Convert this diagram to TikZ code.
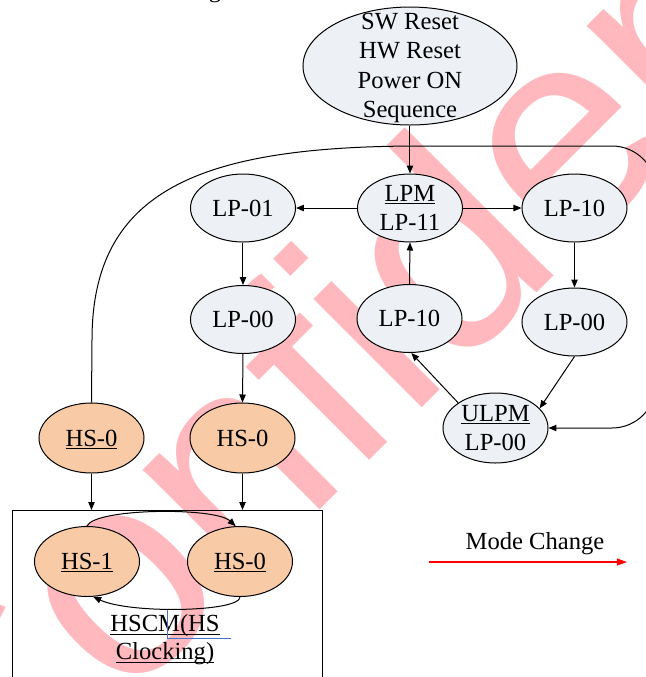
\documentclass[tikz,border=0pt]{standalone}
\usepackage{fontspec}
\setmainfont{Liberation Serif}
\newfontfamily\wmfont{Liberation Sans}
\usetikzlibrary{arrows.meta,shapes.geometric}

\definecolor{lpfill}{RGB}{237,240,245}
\definecolor{hsfill}{RGB}{248,203,166}
\definecolor{wmpink}{RGB}{255,185,190}
\definecolor{frameblue}{RGB}{68,114,196}

% underline drawn at a fixed depth, independent of descenders
\newsavebox\ulinebox
\newcommand\ulw[1]{\sbox\ulinebox{#1}\rlap{\smash{\rule[-1.4pt]{\wd\ulinebox}{0.5pt}}}\usebox\ulinebox}

\begin{document}
\begin{tikzpicture}[x=0.5pt,y=-0.5pt,
  font=\fontsize{12.3pt}{14.8pt}\selectfont,
  state/.style={ellipse, draw, line width=0.5pt, inner sep=0pt,
    minimum width=52.5pt, minimum height=34pt, fill=lpfill},
  hs/.style={state, fill=hsfill, minimum height=35pt},
  arr/.style={-{Triangle[length=4pt,width=3.2pt]}, line width=0.5pt},
  wm/.style={rotate=45, text=wmpink, inner sep=0pt, anchor=base west,
    font=\wmfont\fontsize{145pt}{145pt}\selectfont}]
\useasboundingbox (0,0) rectangle (646,677);
\clip (0,0) rectangle (646,677);

% watermark
\node[wm] (wm) at (-25,855) {Confidential};

% tail of the caption line above
\node[anchor=base, inner sep=0pt] (caption) at (215,-2.3) {g};

% states
\node[state, minimum width=107pt, minimum height=59pt] (reset) at (410,66) {};
\node[align=center, inner sep=0pt] (resetlbl) at (410,68) {SW Reset\\HW Reset\\Power ON\\Sequence};
\node[state, align=center] (lpm) at (410,208) {\ulw{LPM}\\LP-11};
\node[state] (lp01) at (243,208) {LP-01};
\node[state] (lp10r) at (574.5,208) {LP-10};
\node[state] (lp00l) at (243,319.5) {LP-00};
\node[state] (lp10m) at (409.5,318.5) {LP-10};
\node[state] (lp00r) at (574.5,322) {LP-00};
\node[state, align=center, minimum height=35pt] (ulpm) at (495.5,428) {\ulw{ULPM}\\LP-00};
\node[hs] (hs0a) at (91.5,438) {\ulw{HS-0}};
\node[hs] (hs0b) at (242.5,438) {HS-0};

% HS clocking mode frame
\node[draw, line width=0.5pt, inner sep=0pt, anchor=north west,
  minimum width=155pt, minimum height=100pt] (hscm) at (12,510) {};
\node[hs] (hs1) at (87,561.5) {\ulw{HS-1}};
\node[hs] (hs0c) at (240,561.5) {\ulw{HS-0}};
\node[align=center, inner sep=0pt] (hscmlbl) at (165,640) {\ulw{HSCM(HS}\\[-0.7pt]\ulw{Clocking)}};
\draw[frameblue, line width=0.4pt] (167,610) |- (231,638);

% transitions
\draw[arr] (reset.south) -- (lpm.north);
\draw[arr] (lpm.west) -- (lp01.east);
\draw[arr] (lpm.east) -- (lp10r.west);
\draw[arr] (lp01.south) -- (lp00l.north);
\draw[arr] (lp10r.south) -- (lp00r.north);
\draw[arr] (lp10m.north) -- (lpm.south);
\draw[arr] (ulpm.146) -- (lp10m.-87);
\draw[arr] (lp00r.south) -- (ulpm.24);
\draw[arr] (lp00l.south) -- (hs0b.north);
\draw[arr] (hs0a.south) -- (hs0a |- hscm.north);
\draw[arr] (hs0b.south) -- (hs0b |- hscm.north);
\draw[arr] (hs1.north) .. controls (95,508) and (215,507) .. (hs0c.97);
\draw[arr] (hs0c.south) .. controls (240,612) and (130,614) .. (hs1.-80);
\draw[arr] (hs0a.north) -- (92,340) .. controls (92,190) and (200,146) .. (420,146)
  [rounded corners=22pt] -- (656,146) -- (656,428) -- (ulpm.east);

% legend
\node[inner sep=0pt] (mclbl) at (535,544) {Mode Change};
\coordinate (mcs) at (429,562);
\coordinate (mce) at (627,562);
\draw[red, line width=0.6pt, -{Triangle[length=5pt,width=3.4pt]}] (mcs) -- (mce);
\end{tikzpicture}
\end{document}
